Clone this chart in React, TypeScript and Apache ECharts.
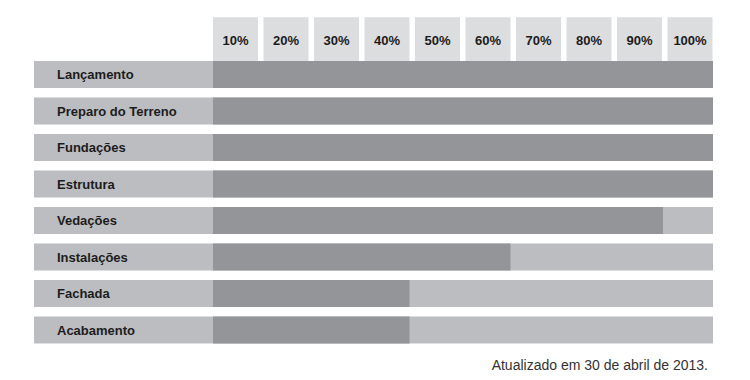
import React, { useEffect, useRef } from "react";
import * as echarts from "echarts";

const stages = [
  "Lançamento",
  "Preparo do Terreno",
  "Fundações",
  "Estrutura",
  "Vedações",
  "Instalações",
  "Fachada",
  "Acabamento",
];
const progress = [100, 100, 100, 100, 90, 59.5, 39.3, 39.3];
const headerTicks = ["10%", "20%", "30%", "40%", "50%", "60%", "70%", "80%", "90%", "100%"];
const footnote = "Atualizado em 30 de abril de 2013.";

const FONT = "'Liberation Sans', Arial, sans-serif";
const LIGHT = "#bcbdc1";
const DARK = "#949598";
const HEADER = "#dcdddf";
const TEXT = "#1c1c1c";

export default function App() {
  const ref = useRef<HTMLDivElement>(null);
  useEffect(() => {
    document.body.style.margin = "0";
    const chart = echarts.init(ref.current!, null, { renderer: "svg" });
    const rowGrid = { top: 56.25, height: 292 };
    chart.setOption({
      animation: false,
      backgroundColor: "#ffffff",
      textStyle: { fontFamily: FONT },
      title: {
        text: footnote,
        right: 37,
        top: 353,
        textStyle: { fontFamily: FONT, fontSize: 14, fontWeight: "normal", color: "#333333" },
      },
      grid: [
        { left: 34, width: 179, ...rowGrid },
        { left: 213, width: 500, ...rowGrid },
        { left: 210.25, width: 505, top: 17.3, height: 43.7 },
      ],
      xAxis: [
        { gridIndex: 0, type: "value", min: 0, max: 1, show: false },
        { gridIndex: 1, type: "value", min: 0, max: 100, show: false },
        { gridIndex: 2, type: "category", data: headerTicks, show: false },
      ],
      yAxis: [
        { gridIndex: 0, type: "category", data: stages, inverse: true, show: false },
        { gridIndex: 1, type: "category", data: stages, inverse: true, show: false },
        { gridIndex: 2, type: "value", min: 0, max: 1, show: false },
      ],
      series: [
        {
          type: "bar",
          xAxisIndex: 0,
          yAxisIndex: 0,
          data: stages.map(() => 1),
          barWidth: 27,
          itemStyle: { color: LIGHT },
          label: {
            show: true,
            position: "insideLeft",
            distance: 23,
            formatter: "{b}",
            color: TEXT,
            fontFamily: FONT,
            fontSize: 13,
            fontWeight: "bold",
          },
          silent: true,
        },
        {
          type: "bar",
          xAxisIndex: 1,
          yAxisIndex: 1,
          data: stages.map(() => 100),
          barWidth: 27,
          barGap: "-100%",
          itemStyle: { color: LIGHT },
          silent: true,
        },
        {
          type: "bar",
          xAxisIndex: 1,
          yAxisIndex: 1,
          data: progress,
          barWidth: 27,
          barGap: "-100%",
          itemStyle: { color: DARK },
          silent: true,
        },
        {
          type: "bar",
          xAxisIndex: 2,
          yAxisIndex: 2,
          data: headerTicks.map(() => 1),
          barWidth: 45,
          itemStyle: { color: HEADER },
          label: {
            show: true,
            position: "inside",
            formatter: "{b}",
            color: TEXT,
            fontFamily: FONT,
            fontSize: 13,
            fontWeight: "bold",
            offset: [0, 1],
          },
          silent: true,
        },
      ],
    });
    return () => chart.dispose();
  }, []);
  return <div ref={ref} style={{ width: 750, height: 380 }} />;
}
